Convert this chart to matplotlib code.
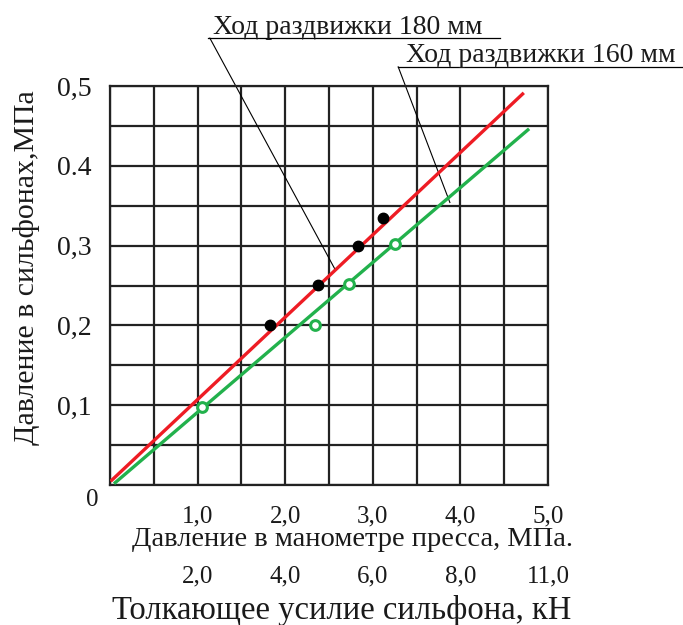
import matplotlib.pyplot as plt

# === data ===
# x: давление в манометре пресса, МПа ; y: давление в сильфонах, МПа
line180_x = [0.02, 4.71]
line180_y = [0.006, 0.49]
line160_x = [0.06, 4.77]
line160_y = [0.003, 0.445]

pts180_x = [1.83, 2.37, 2.83, 3.12]
pts180_y = [0.200, 0.251, 0.300, 0.335]
pts160_x = [1.05, 2.34, 2.73, 3.25]
pts160_y = [0.098, 0.200, 0.252, 0.302]

x_ticks = [1, 2, 3, 4, 5]
x_labels = ["1,0", "2,0", "3,0", "4,0", "5,0"]
force_labels = ["2,0", "4,0", "6,0", "8,0", "11,0"]
y_ticks = [0.1, 0.2, 0.3, 0.4, 0.5]
y_labels = ["0,1", "0,2", "0,3", "0.4", "0,5"]

FONT = "Liberation Serif"
TXT = "#1a1a1a"

fig = plt.figure(figsize=(6.83, 6.25), dpi=100)
ax = fig.add_axes([110 / 683, 1 - 485 / 625, 438 / 683, 399 / 625])
ax.set_xlim(0, 5)
ax.set_ylim(0, 0.5)

# grid 10 x 10
for i in range(11):
    ax.axvline(i * 0.5, color="#222222", lw=1.6, zorder=1)
    ax.axhline(i * 0.05, color="#222222", lw=1.6, zorder=1)
for s in ax.spines.values():
    s.set_color("#222222")
    s.set_linewidth(1.6)

ax.plot(line180_x, line180_y, color="#ee1c24", lw=2.4, zorder=3)
ax.plot(line160_x, line160_y, color="#22b14c", lw=2.4, zorder=3)
ax.plot(pts180_x, pts180_y, "o", color="black", ms=7.5, zorder=4)
ax.plot(pts160_x, pts160_y, "o", mfc="white", mec="#22b14c", mew=2.2, ms=7, zorder=4)

ax.set_xticks(x_ticks)
ax.set_xticklabels([])
ax.set_yticks(y_ticks)
ax.set_yticklabels(y_labels, fontsize=20, family=FONT, color=TXT)
ax.tick_params(length=0, pad=13)

# x tick labels, two rows
for x, lab, f in zip(x_ticks, x_labels, force_labels):
    ax.text(x, -0.039, lab, fontsize=18, family=FONT, color=TXT,
            ha="center", va="center", clip_on=False)
    ax.text(x, -0.115, f, fontsize=18, family=FONT, color=TXT,
            ha="center", va="center", clip_on=False)
ax.text(-0.205, -0.019, "0", fontsize=18, family=FONT, color=TXT,
        ha="center", va="center", clip_on=False)

fig.text(352 / 683, 1 - 540 / 625, "Давление в манометре пресса, МПа.",
         fontsize=20.5, family=FONT, color=TXT, ha="center", va="center")
fig.text(342 / 683, 1 - 610 / 625, "Толкающее усилие сильфона, кН",
         fontsize=23.5, family=FONT, color=TXT, ha="center", va="center")
fig.text(27 / 683, 1 - 268 / 625, "Давление в сильфонах,МПа", rotation=90,
         fontsize=21.5, family=FONT, color=TXT, ha="center", va="center")

# leaders with underlined captions
ax.plot([1.12, 4.45], [0.56, 0.56], color="black", lw=0.9, clip_on=False)
ax.plot([1.14, 2.57], [0.56, 0.27], color="black", lw=0.8, clip_on=False)
ax.text(1.18, 0.565, "Ход раздвижки 180 мм", fontsize=20, family=FONT,
        color=TXT, ha="left", va="baseline", clip_on=False)

ax.plot([3.29, 6.54], [0.524, 0.524], color="black", lw=0.9, clip_on=False)
ax.plot([3.29, 3.88], [0.524, 0.354], color="black", lw=0.8, clip_on=False)
ax.text(3.38, 0.53, "Ход раздвижки 160 мм", fontsize=20, family=FONT,
        color=TXT, ha="left", va="baseline", clip_on=False)

fig.savefig("out.png", dpi=100)
